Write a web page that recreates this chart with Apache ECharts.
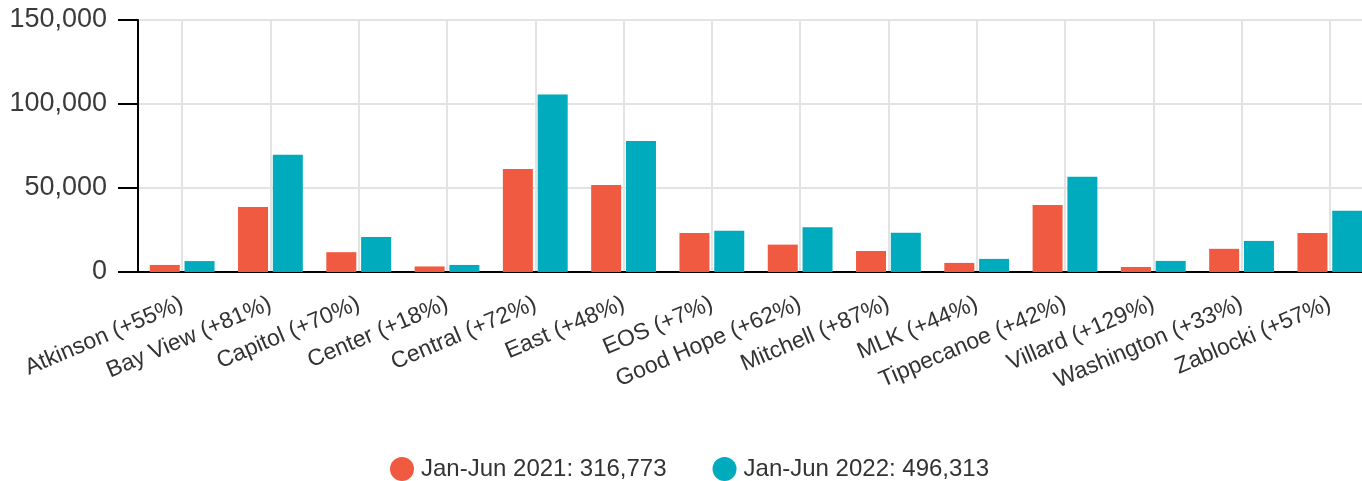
<!DOCTYPE html>
<html>
<head>
<meta charset="utf-8">
<script src="https://cdn.jsdelivr.net/npm/echarts@6/dist/echarts.min.js"></script>
<style>
html,body{margin:0;padding:0;background:#fff;}
#chart{width:1362px;height:481px;}
</style>
</head>
<body>
<div id="chart"></div>
<script>
const categories = ['Atkinson (+55%)','Bay View (+81%)','Capitol (+70%)','Center (+18%)','Central (+72%)','East (+48%)','EOS (+7%)','Good Hope (+62%)','Mitchell (+87%)','MLK (+44%)','Tippecanoe (+42%)','Villard (+129%)','Washington (+33%)','Zablocki (+57%)'];
const values2021 = [4200, 38700, 11800, 3300, 61300, 51800, 23200, 16300, 12500, 5400, 39900, 3000, 13800, 23200];
const values2022 = [6500, 69800, 20800, 4200, 105600, 78000, 24600, 26600, 23400, 7800, 56700, 6600, 18500, 36400];
const seriesNames = ['Jan-Jun 2021: 316,773', 'Jan-Jun 2022: 496,313'];
const yTicks = {min: 0, max: 150000, interval: 50000};

const FONT = '"Liberation Sans", Arial, sans-serif';
const chart = echarts.init(document.getElementById('chart'), null, {renderer: 'canvas'});
chart.setOption({
  animation: false,
  textStyle: {fontFamily: FONT},
  grid: {left: 138, width: 1236, top: 20, height: 252, containLabel: false, outerBoundsMode: 'none'},
  legend: {
    left: 390, top: 457, padding: 0,
    icon: 'circle', itemWidth: 24, itemHeight: 24, itemGap: 46,
    textStyle: {fontSize: 24, color: '#333', fontFamily: FONT, padding: [0, 0, 0, 2]},
    data: seriesNames
  },
  xAxis: {
    type: 'category',
    data: categories,
    axisLine: {lineStyle: {color: '#000', width: 2}},
    axisTick: {alignWithLabel: true, length: 18, lineStyle: {color: '#000', width: 2}},
    splitLine: {show: true, alignWithLabel: true, lineStyle: {color: '#e3e3e3', width: 2}},
    axisLabel: {rotate: 23, margin: 31, fontSize: 23, color: '#333', fontFamily: FONT, interval: 0}
  },
  yAxis: {
    type: 'value',
    min: yTicks.min, max: yTicks.max, interval: yTicks.interval,
    axisLine: {show: true, lineStyle: {color: '#000', width: 2}},
    axisTick: {show: true, length: 20, lineStyle: {color: '#000', width: 2}},
    splitLine: {show: true, lineStyle: {color: '#e3e3e3', width: 2}},
    axisLabel: {margin: 31, fontSize: 27, color: '#3a3a3a', fontFamily: FONT, padding: [8, 0, 0, 0],
      formatter: v => v.toLocaleString('en-US')}
  },
  series: [
    {name: seriesNames[0], type: 'bar', data: values2021, barWidth: 30, barGap: '16%',
     itemStyle: {color: '#F05A40'}},
    {name: seriesNames[1], type: 'bar', data: values2022, barWidth: 30,
     itemStyle: {color: '#00ABBD'}}
  ]
});
</script>
</body>
</html>
